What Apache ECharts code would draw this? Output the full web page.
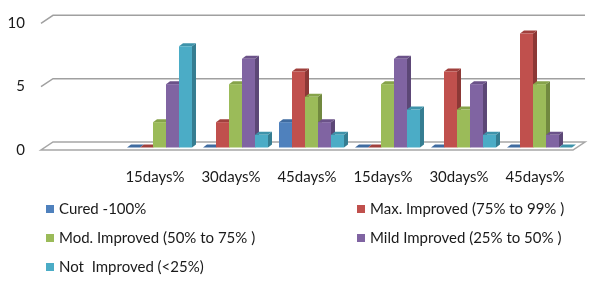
<!DOCTYPE html>
<html>
<head>
<meta charset="utf-8">
<script src="https://cdn.jsdelivr.net/npm/echarts@6/dist/echarts.min.js"></script>
<style>
  html, body { margin: 0; padding: 0; background: #fff; }
  #chart { width: 600px; height: 284px; }
</style>
</head>
<body>
<div id="chart"></div>
<script>
// first category is empty in the original chart
const categories = ['', '15days%', '30days%', '45days%', '15days%', '30days%', '45days%'];
const seriesNames = [
  'Cured -100%',
  'Max. Improved (75% to 99% )',
  'Mod. Improved (50% to 75% )',
  'Mild Improved (25% to 50% )',
  'Not  Improved (<25%)'
];
const cured = [0, 0, 2, 0, 0, 0];
const maxImproved = [0, 2, 6, 0, 6, 9];
const modImproved = [2, 5, 4, 5, 3, 5];
const mildImproved = [5, 7, 2, 7, 5, 1];
const notImproved = [8, 1, 1, 3, 1, 0];
const yTicks = [0, 5, 10];

const values = [cured, maxImproved, modImproved, mildImproved, notImproved];
// front, side, top shades
const colors = [
  ['#4f81bd', '#385d8a', '#3f6ba0'],
  ['#c0504d', '#8c3836', '#a0403d'],
  ['#9bbb59', '#71893f', '#86a34a'],
  ['#8064a2', '#5c4776', '#6b5289'],
  ['#4bacc6', '#357d91', '#3e93aa']
];
const FONT = 'Lato';
// depth of the back wall, and of one bar
const WALL_DX = 12, WALL_DY = -8;
const BAR_DX = 4, BAR_DY = -3;

function barRenderer(si) {
  return function (params, api) {
    const cat = api.value(0), v = api.value(1);
    const base = api.coord([cat, 0]);
    const top = api.coord([cat, v]);
    const w = api.size([1, 0])[0] * 0.171;
    const x0 = base[0] + 4.5 + (si - 2.5) * w;
    const x1 = x0 + w;
    const yb = base[1] - 2.5, yt = top[1] - 2.5;
    const c = colors[si];
    return {
      type: 'group',
      children: [
        { type: 'polygon', shape: { points: [[x1, yb], [x1 + BAR_DX, yb + BAR_DY], [x1 + BAR_DX, yt + BAR_DY], [x1, yt]] },
          style: { fill: c[1] } },
        { type: 'polygon', shape: { points: [[x0, yt], [x1, yt], [x1 + BAR_DX, yt + BAR_DY], [x0 + BAR_DX, yt + BAR_DY]] },
          style: { fill: c[2] } },
        { type: 'rect', shape: { x: x0, y: yt, width: w, height: yb - yt },
          style: { fill: c[0] } }
      ]
    };
  };
}

function wallRenderer(params, api) {
  const v = api.value(1);
  const y = api.coord([0, v])[1];
  const cs = params.coordSys;
  const l = cs.x, r = cs.x + cs.width;
  if (v === 0) {
    return { type: 'polygon', shape: { points: [[l, y], [r, y], [r + WALL_DX, y + WALL_DY], [l + WALL_DX, y + WALL_DY]] },
      style: { fill: '#fff', stroke: '#a6a6a6', lineWidth: 1.5 } };
  }
  return { type: 'polyline', shape: { points: [[l, y], [l + WALL_DX, y + WALL_DY], [r + WALL_DX, y + WALL_DY]] },
    style: { fill: null, stroke: '#a0a0a0', lineWidth: 1.5 } };
}

const series = [{
  type: 'custom',
  name: 'walls',
  silent: true,
  z: 1,
  renderItem: wallRenderer,
  data: yTicks.map(t => [0, t])
}];
values.forEach((arr, si) => {
  series.push({
    type: 'custom',
    name: seriesNames[si],
    z: 2,
    itemStyle: { color: colors[si][0] },
    renderItem: barRenderer(si),
    data: arr.map((v, k) => [k + 1, v])
  });
});

const legendBase = {
  orient: 'vertical',
  icon: 'rect',
  itemWidth: 8,
  itemHeight: 8,
  itemGap: 11,
  padding: 0,
  height: 84,
  selectedMode: false,
  textStyle: { fontFamily: FONT, fontSize: 15, color: '#1a1a1a', lineHeight: 18 }
};

const chart = echarts.init(document.getElementById('chart'), null, { renderer: 'canvas' });
chart.setOption({
  animation: false,
  grid: { left: 41, right: 27, top: 23.3, bottom: 134 },
  xAxis: {
    type: 'category',
    data: categories,
    axisLine: { show: false },
    axisTick: { show: false },
    axisLabel: { margin: 20, fontFamily: FONT, fontSize: 15, color: '#1a1a1a', interval: 0 }
  },
  yAxis: {
    type: 'value',
    min: 0, max: 10, interval: 5,
    axisLine: { show: false },
    axisTick: { show: false },
    splitLine: { show: false },
    axisLabel: { margin: 16, fontFamily: FONT, fontSize: 15, color: '#1a1a1a' }
  },
  legend: [
    Object.assign({ left: 46, top: 200, data: [seriesNames[0], seriesNames[2], seriesNames[4]] }, legendBase),
    Object.assign({ left: 357, top: 200, data: [seriesNames[1], seriesNames[3]] }, legendBase)
  ],
  series: series
});
</script>
</body>
</html>
